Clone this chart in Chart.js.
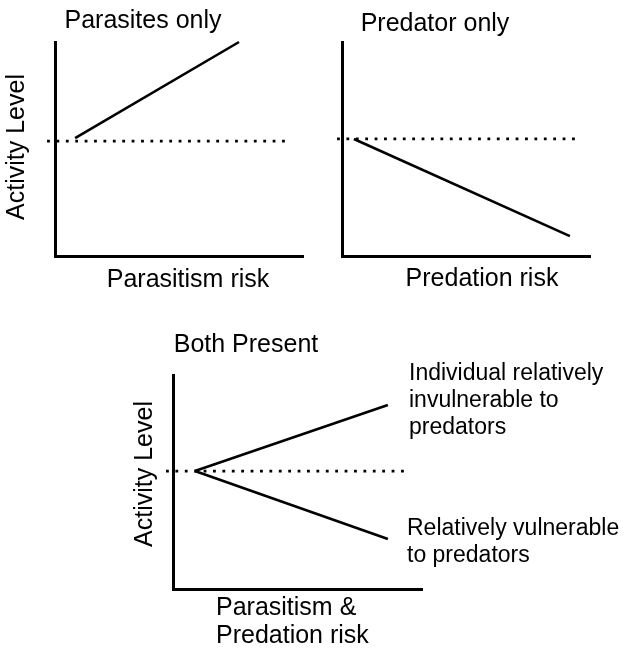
<!DOCTYPE html>
<html>
<head>
<meta charset="utf-8">
<script src="https://cdn.jsdelivr.net/npm/chart.js@4/dist/chart.umd.min.js"></script>
<style>
  html, body { margin: 0; padding: 0; background: #ffffff; }
  body { width: 624px; height: 651px; position: relative; overflow: hidden; }
  canvas { position: absolute; }
</style>
</head>
<body>
<canvas id="c1" width="312" height="300" style="left:0;top:0;"></canvas>
<canvas id="c2" width="312" height="300" style="left:312px;top:0;"></canvas>
<canvas id="c3" width="624" height="341" style="left:0;top:310px;"></canvas>
<script>
// ---------- data (conceptual activity level, 0-100 scale) ----------
// Panel 1: Parasites only
const p1BaseX = [-3.2, 94.8];
const p1BaseY = [53.7, 53.7];
const p1LineX = [8.1, 74.2];
const p1LineY = [55.1, 100];
// Panel 2: Predator only
const p2BaseX = [-2.0, 96.0];
const p2BaseY = [54.7, 54.7];
const p2LineX = [4.8, 91.9];
const p2LineY = [54.7, 9.3];
// Panel 3: Both present
const p3BaseX = [-2.8, 94.0];
const p3BaseY = [55.1, 55.1];
const p3InvulnX = [8.8, 86.3];
const p3InvulnY = [55.1, 86.0];
const p3VulnX = [8.8, 86.3];
const p3VulnY = [55.1, 23.4];

// ---------- text ----------
const panelTitles = ['Parasites only', 'Predator only', 'Both Present'];
const yAxisLabel = 'Activity Level';
const xAxisLabels = [['Parasitism risk'], ['Predation risk'], ['Parasitism &', 'Predation risk']];
const invulnLabel = ['Individual relatively', 'invulnerable to', 'predators'];
const vulnLabel = ['Relatively vulnerable', 'to predators'];

const FONT = '"Liberation Sans", Arial, Helvetica, sans-serif';

function pts(xs, ys) { return xs.map((x, i) => ({ x: x, y: ys[i] })); }

const textPlugin = {
  id: 'freeText',
  afterDraw(chart, args, opts) {
    const ctx = chart.ctx;
    (opts.items || []).forEach(it => {
      ctx.save();
      ctx.fillStyle = '#000';
      ctx.font = (it.size || 25) + 'px ' + FONT;
      ctx.textAlign = it.align || 'left';
      ctx.textBaseline = 'alphabetic';
      ctx.translate(it.x, it.y);
      if (it.rotate) ctx.rotate(it.rotate);
      const lh = it.lineHeight || 27;
      it.lines.forEach((ln, i) => ctx.fillText(ln, 0, i * lh));
      ctx.restore();
    });
  }
};

function baseDataset(data) {
  return {
    data: data, borderColor: '#000', borderWidth: 2.8,
    borderDash: [2.8, 6.6], borderCapStyle: 'butt',
    pointRadius: 0, clip: false, tension: 0
  };
}
function solidDataset(data) {
  return {
    data: data, borderColor: '#000', borderWidth: 2.6,
    pointRadius: 0, clip: false, tension: 0
  };
}

function makeChart(id, datasets, padding, items) {
  return new Chart(document.getElementById(id), {
    type: 'line',
    data: { datasets: datasets },
    plugins: [textPlugin],
    options: {
      responsive: false,
      animation: false,
      events: [],
      layout: { padding: padding },
      plugins: { legend: { display: false }, tooltip: { enabled: false }, title: { display: false }, freeText: { items: items } },
      scales: {
        x: {
          type: 'linear', min: 0, max: 100,
          grid: { display: false, drawTicks: false },
          ticks: { display: false },
          border: { display: true, color: '#000', width: 3 }
        },
        y: {
          type: 'linear', min: 0, max: 100,
          grid: { display: false, drawTicks: false },
          ticks: { display: false },
          border: { display: true, color: '#000', width: 3 }
        }
      }
    }
  });
}

makeChart('c1',
  [baseDataset(pts(p1BaseX, p1BaseY)), solidDataset(pts(p1LineX, p1LineY))],
  { left: 55, top: 42, right: 9, bottom: 44 },
  [
    { lines: [panelTitles[0]], x: 143, y: 28, align: 'center' },
    { lines: xAxisLabels[0], x: 188, y: 287, align: 'center' },
    { lines: [yAxisLabel], x: 24, y: 147, align: 'center', rotate: -Math.PI / 2 }
  ]);

makeChart('c2',
  [baseDataset(pts(p2BaseX, p2BaseY)), solidDataset(pts(p2LineX, p2LineY))],
  { left: 30, top: 42, right: 34, bottom: 44 },
  [
    { lines: [panelTitles[1]], x: 435 - 312, y: 31, align: 'center' },
    { lines: xAxisLabels[1], x: 482 - 312, y: 286, align: 'center' }
  ]);

makeChart('c3',
  [baseDataset(pts(p3BaseX, p3BaseY)), solidDataset(pts(p3InvulnX, p3InvulnY)), solidDataset(pts(p3VulnX, p3VulnY))],
  { left: 173, top: 65, right: 202, bottom: 62 },
  [
    { lines: [panelTitles[2]], x: 246, y: 352 - 310, align: 'center' },
    { lines: xAxisLabels[2], x: 216, y: 615 - 310, align: 'left', lineHeight: 28 },
    { lines: [yAxisLabel], x: 152, y: 474 - 310, align: 'center', rotate: -Math.PI / 2 },
    { lines: invulnLabel, x: 409, y: 380 - 310, align: 'left', size: 23, lineHeight: 27 },
    { lines: vulnLabel, x: 407, y: 535 - 310, align: 'left', size: 23, lineHeight: 27 }
  ]);
</script>
</body>
</html>
